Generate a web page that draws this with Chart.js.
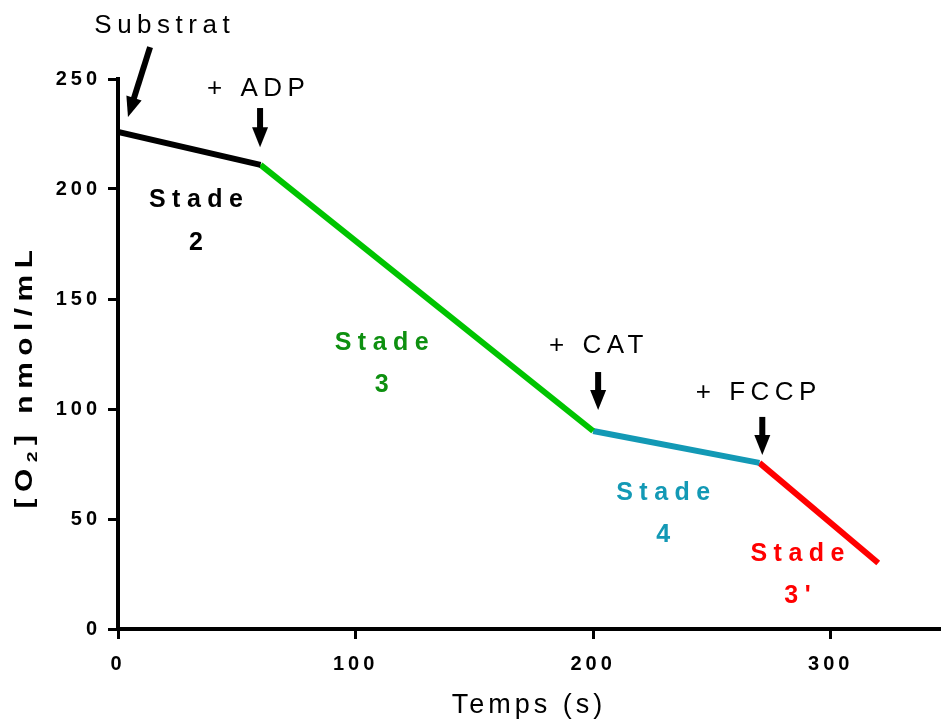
<!DOCTYPE html>
<html lang="fr">
<head>
    <meta charset="UTF-8">
    <title>Consommation d'oxygène - stades respiratoires</title>
    <script src="https://cdn.jsdelivr.net/npm/chart.js"></script>
    <style>
        body { margin: 0; background: #fff; }
    </style>
</head>
<body>
<canvas id="o2Chart" width="941" height="722"></canvas>

<script>
    // points de mesure (temps en s, [O2] en nmol/mL)
    const temps = [0, 60, 200, 270, 320];
    const o2 = [226, 211, 90, 75.5, 30];

    // un segment par stade, entre deux points successifs
    const stades = ['2', '3', '4', "3'"];
    const couleursLigne = ['#000000', '#00C400', '#1399B5', '#FF0000'];
    const couleursTexte = ['#000000', '#0E9010', '#1399B5', '#FF0000'];

    // ajouts (flèches)
    const ajouts = ['Substrat', '+ ADP', '+ CAT', '+ FCCP'];

    const xTicks = [0, 100, 200, 300];
    const yTicks = [0, 50, 100, 150, 200, 250];

    const FONT = '"Liberation Sans", Arial, sans-serif';

    // placement des annotations en unités de données
    const placeAjouts = [
        { tx: 18.5, ty: 274, ax0: 13.5, ay0: 264.5, ax1: 4.2, ay1: 232.7 },
        { tx: 58.1, ty: 245.5, ax0: 59.8, ay0: 236.8, ax1: 59.8, ay1: 219 },
        { tx: 201.3, ty: 128.6, ax0: 202.1, ay0: 116.8, ax1: 202.1, ay1: 99.5 },
        { tx: 268.6, ty: 107.3, ax0: 271.2, ay0: 96.4, ax1: 271.2, ay1: 79.1 }
    ];
    const placeStades = [
        { x: 32.8, y1: 195, y2: 175.5 },
        { x: 111, y1: 130, y2: 111 },
        { x: 229.5, y1: 61.8, y2: 42.7 },
        { x: 286, y1: 34, y2: 15 }
    ];

    const datasets = stades.map((s, i) => ({
        label: 'Stade ' + s,
        data: [{ x: temps[i], y: o2[i] }, { x: temps[i + 1], y: o2[i + 1] }],
        showLine: true,
        borderColor: couleursLigne[i],
        backgroundColor: couleursLigne[i],
        borderWidth: 6,
        borderCapStyle: 'butt',
        pointRadius: 0,
        pointHoverRadius: 0
    }));

    function fleche(ctx, x0, y0, x1, y1) {
        const ang = Math.atan2(y1 - y0, x1 - x0);
        const len = Math.hypot(x1 - x0, y1 - y0);
        const tete = 20, demi = 8;
        ctx.save();
        ctx.translate(x0, y0);
        ctx.rotate(ang);
        ctx.fillStyle = '#000';
        ctx.fillRect(0, -3, len - tete + 1, 6);
        ctx.beginPath();
        ctx.moveTo(len, 0);
        ctx.lineTo(len - tete, -demi);
        ctx.lineTo(len - tete, demi);
        ctx.closePath();
        ctx.fill();
        ctx.restore();
    }

    function texteCentre(ctx, txt, x, y, espace) {
        ctx.letterSpacing = espace + 'px';
        ctx.textAlign = 'center';
        ctx.textBaseline = 'middle';
        ctx.fillText(txt, x + espace / 2, y);
    }

    const espacement = {
        id: 'espacement',
        beforeDraw(chart) {
            chart.ctx.letterSpacing = '4px';
        }
    };

    const annotations = {
        id: 'annotations',
        afterDraw(chart) {
            const ctx = chart.ctx;
            const xs = chart.scales.x, ys = chart.scales.y;
            ctx.save();

            // ajouts + flèches
            ctx.font = '26px ' + FONT;
            ctx.fillStyle = '#000';
            ajouts.forEach((a, i) => {
                const p = placeAjouts[i];
                texteCentre(ctx, a, xs.getPixelForValue(p.tx), ys.getPixelForValue(p.ty), 5.5);
                fleche(ctx, xs.getPixelForValue(p.ax0), ys.getPixelForValue(p.ay0),
                    xs.getPixelForValue(p.ax1), ys.getPixelForValue(p.ay1));
            });

            // stades
            ctx.font = 'bold 25px ' + FONT;
            stades.forEach((s, i) => {
                const p = placeStades[i];
                ctx.fillStyle = couleursTexte[i];
                texteCentre(ctx, 'Stade', xs.getPixelForValue(p.x), ys.getPixelForValue(p.y1), 6.5);
                texteCentre(ctx, s, xs.getPixelForValue(p.x), ys.getPixelForValue(p.y2), 6.5);
            });

            // titre axe Y avec indice
            const morceaux = [
                { t: '[O', f: 'bold 23px ' + FONT, dy: 0 },
                { t: '2', f: 'bold 15px ' + FONT, dy: 5 },
                { t: '] nmol/mL', f: 'bold 23px ' + FONT, dy: 0 }
            ];
            ctx.letterSpacing = '5px';
            ctx.textAlign = 'left';
            ctx.textBaseline = 'alphabetic';
            ctx.fillStyle = '#000';
            let total = 0;
            morceaux.forEach(m => { ctx.font = m.f; m.w = ctx.measureText(m.t).width; total += m.w; });
            ctx.translate(32, (chart.chartArea.top + chart.chartArea.bottom) / 2 + 22);
            ctx.rotate(-Math.PI / 2);
            ctx.scale(1.3, 1);
            let x = -total / 2;
            morceaux.forEach(m => {
                ctx.font = m.f;
                ctx.fillText(m.t, x, m.dy);
                x += m.w;
            });
            ctx.restore();
        }
    };

    const tickFont = { family: FONT, size: 20, weight: 'bold' };

    new Chart(document.getElementById('o2Chart'), {
        type: 'scatter',
        data: { datasets: datasets },
        options: {
            responsive: false,
            animation: false,
            layout: { padding: { top: 79, right: 1, left: 0, bottom: 0 } },
            plugins: {
                legend: { display: false },
                tooltip: { enabled: false }
            },
            scales: {
                x: {
                    type: 'linear',
                    min: 0,
                    max: 346,
                    afterFit: s => { s.height = 93; },
                    afterBuildTicks: s => { s.ticks = xTicks.map(v => ({ value: v })); },
                    ticks: { color: '#000', font: tickFont, padding: 13, maxRotation: 0 },
                    grid: { drawOnChartArea: false, drawTicks: true, tickLength: 10, tickWidth: 3, tickColor: '#000' },
                    border: { display: true, color: '#000', width: 4 },
                    title: {
                        display: true,
                        text: 'Temps (s)',
                        color: '#000',
                        font: { family: FONT, size: 27 },
                        padding: { top: 0, bottom: 0 }
                    }
                },
                y: {
                    min: 0,
                    max: 250,
                    afterFit: s => { s.width = 118; },
                    afterBuildTicks: s => { s.ticks = yTicks.map(v => ({ value: v })); },
                    ticks: { color: '#000', font: tickFont, padding: 7 },
                    grid: { drawOnChartArea: false, drawTicks: true, tickLength: 10, tickWidth: 3, tickColor: '#000' },
                    border: { display: true, color: '#000', width: 4 }
                }
            }
        },
        plugins: [espacement, annotations]
    });
</script>
</body>
</html>
